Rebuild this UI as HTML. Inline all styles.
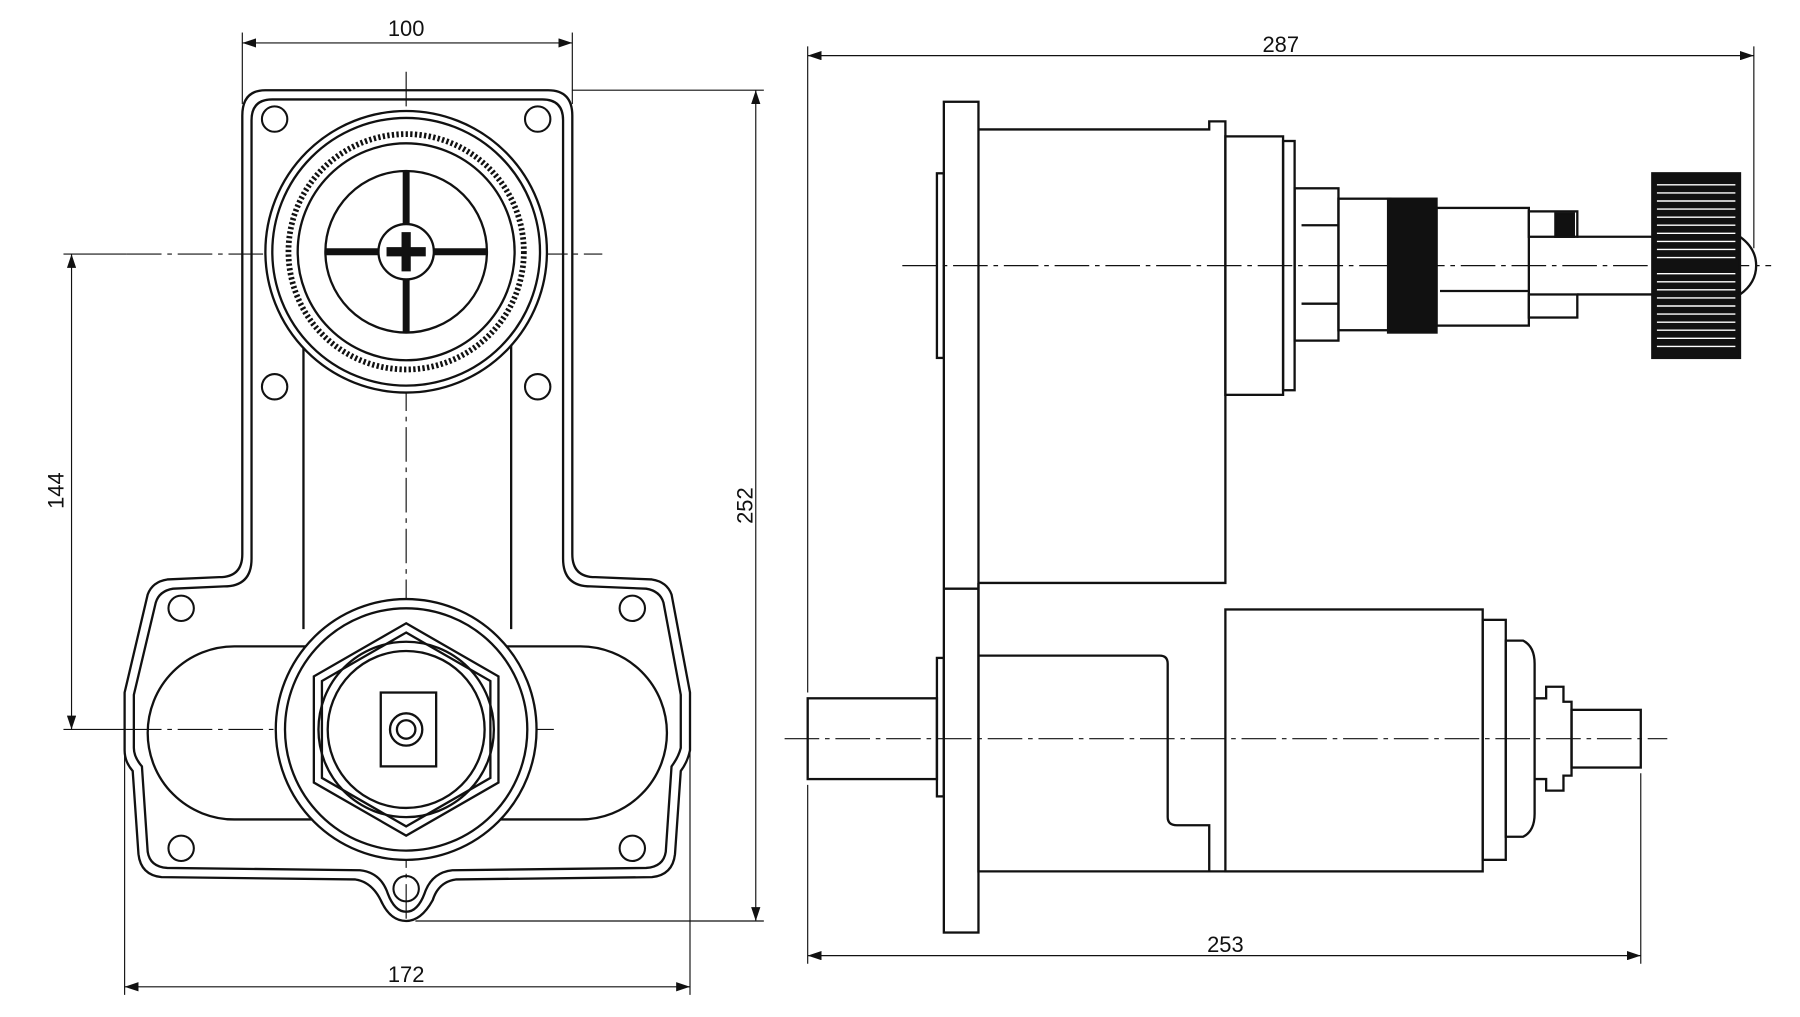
<!DOCTYPE html>
<html><head><meta charset="utf-8"><style>
html,body{margin:0;padding:0;background:#fff;}
svg{display:block;}
text{font-family:"Liberation Sans",sans-serif;font-size:19px;fill:#111;}
</style></head><body>
<svg width="1800" height="1017" viewBox="0 0 1560 881" xmlns="http://www.w3.org/2000/svg">
<defs>
<marker id="a" markerWidth="12" markerHeight="8" refX="12" refY="4" orient="auto-start-reverse" markerUnits="userSpaceOnUse"><path d="M0,0 L12,4 L0,8 Z" fill="#111"/></marker>
</defs>
<g fill="none" stroke="#111" stroke-width="1">
<!-- dimension lines left -->
<line x1="210" y1="28" x2="210" y2="90"/><line x1="496" y1="28" x2="496" y2="90"/>
<line x1="210" y1="37" x2="496" y2="37" marker-start="url(#a)" marker-end="url(#a)"/>
<line x1="496" y1="78" x2="662" y2="78"/><line x1="360" y1="798" x2="662" y2="798"/>
<line x1="655" y1="78" x2="655" y2="798" marker-start="url(#a)" marker-end="url(#a)"/>
<line x1="55" y1="220" x2="110" y2="220"/><line x1="55" y1="632" x2="110" y2="632"/>
<line x1="62" y1="220" x2="62" y2="632" marker-start="url(#a)" marker-end="url(#a)"/>
<line x1="108" y1="650" x2="108" y2="862"/><line x1="598" y1="650" x2="598" y2="862"/>
<line x1="108" y1="855" x2="598" y2="855" marker-start="url(#a)" marker-end="url(#a)"/>
<!-- right dims -->
<line x1="700" y1="40" x2="700" y2="600"/><line x1="1520" y1="40" x2="1520" y2="215"/>
<line x1="700" y1="48" x2="1520" y2="48" marker-start="url(#a)" marker-end="url(#a)"/>
<line x1="700" y1="680" x2="700" y2="835"/><line x1="1422" y1="670" x2="1422" y2="835"/>
<line x1="700" y1="828" x2="1422" y2="828" marker-start="url(#a)" marker-end="url(#a)"/>
<!-- centerlines -->
<g stroke-dasharray="30,5,4,5">
<line x1="352" y1="62" x2="352" y2="800"/>
<line x1="110" y1="220" x2="522" y2="220"/>
<line x1="110" y1="632" x2="480" y2="632"/>
<line x1="782" y1="230" x2="1535" y2="230"/>
<line x1="680" y1="640" x2="1445" y2="640"/>
</g>
</g>
<g fill="none" stroke="#111" stroke-width="2">
<!-- plate -->
<path d="M230 78 L475 78 Q496 78 496 100 L496 480 Q496 500 516 500 L565 502 Q578 504 582 515 L598 600 L598 650 Q596 660 590 668 L585 740 Q583 758 565 760 L395 762 Q380 764 375 780 Q365 798 352 798 Q338 798 330 780 Q322 764 308 762 L140 760 Q122 758 120 740 L115 668 Q108 660 108 650 L108 600 L128 515 Q132 504 145 502 L190 500 Q210 500 210 480 L210 100 Q210 78 230 78 Z"/>
<path d="M236 86 L470 86 Q488 86 488 104 L488 484 Q488 508 512 508 L560 510 Q572 512 575 522 L590 602 L590 648 Q588 656 582 664 L577 738 Q575 751 560 752 L392 754 Q374 756 368 774 Q362 790 352 790 Q342 790 336 774 Q330 756 312 754 L145 752 Q130 751 128 738 L123 664 Q116 656 116 648 L116 602 L135 522 Q138 512 150 510 L194 508 Q218 508 218 484 L218 104 Q218 86 236 86 Z"/>
<line x1="263" y1="295" x2="263" y2="545"/><line x1="443" y1="295" x2="443" y2="545"/>
<rect x="128" y="560" width="450" height="150" rx="75"/>
<g stroke-width="1.8">
<circle cx="238" cy="103" r="11"/><circle cx="466" cy="103" r="11"/>
<circle cx="238" cy="335" r="11"/><circle cx="466" cy="335" r="11"/>
<circle cx="157" cy="527" r="11"/><circle cx="548" cy="527" r="11"/>
<circle cx="157" cy="735" r="11"/><circle cx="548" cy="735" r="11"/>
<circle cx="352" cy="770" r="11"/>
</g>
<!-- top valve -->
<circle cx="352" cy="218" r="122" fill="#fff"/><circle cx="352" cy="218" r="116"/>
<circle cx="352" cy="218" r="102" stroke-width="5" stroke-dasharray="2,2"/>
<circle cx="352" cy="218" r="94"/><circle cx="352" cy="218" r="70"/>
<circle cx="352" cy="218" r="24"/>
<path d="M352 148 V194 M352 242 V288 M282 218 H328 M376 218 H422" stroke-width="6"/>
<path d="M349 202 h6 v13 h13 v6 h-13 v13 h-6 v-13 h-13 v-6 h13 z" fill="#111"/>
<!-- bottom valve -->
<circle cx="352" cy="632" r="113" fill="#fff"/><circle cx="352" cy="632" r="105"/>
<polygon points="352,540 432,586 432,678 352,724 272,678 272,586"/>
<polygon points="352,548 425,590 425,674 352,716 279,674 279,590"/>
<circle cx="352" cy="632" r="76"/><circle cx="352" cy="632" r="68"/>
<rect x="330" y="600" width="48" height="64" fill="#fff"/>
<circle cx="352" cy="632" r="14"/><circle cx="352" cy="632" r="8"/>
<!-- right view -->
<rect x="818" y="88" width="30" height="720"/>
<rect x="812" y="150" width="6" height="160"/><rect x="812" y="570" width="6" height="120"/>
<line x1="818" y1="510" x2="848" y2="510"/>
<path d="M848 112 H1048 V105 H1062 V505 H848"/>
<rect x="1062" y="118" width="50" height="224"/>
<rect x="1112" y="122" width="10" height="216"/>
<rect x="1122" y="163" width="38" height="132"/>
<line x1="1128" y1="195" x2="1160" y2="195"/><line x1="1128" y1="263" x2="1160" y2="263"/>
<rect x="1160" y="172" width="45" height="114"/>
<rect x="1203" y="172" width="42" height="116" fill="#111"/>
<rect x="1245" y="180" width="80" height="102"/>
<line x1="1248" y1="252" x2="1325" y2="252"/>
<rect x="1325" y="183" width="42" height="22"/>
<rect x="1348" y="185" width="16" height="20" fill="#111"/>
<rect x="1325" y="255" width="42" height="20"/>
<line x1="1367" y1="205" x2="1432" y2="205"/><line x1="1367" y1="255" x2="1432" y2="255"/>
<rect x="1432" y="150" width="76" height="160" fill="#111"/>
<g stroke="#fff" stroke-width="1.2">
<path d="M1436 160H1504M1436 167H1504M1436 174H1504M1436 181H1504M1436 188H1504M1436 195H1504M1436 202H1504M1436 209H1504M1436 216H1504M1436 223H1504M1436 237H1504M1436 244H1504M1436 251H1504M1436 258H1504M1436 265H1504M1436 272H1504M1436 279H1504M1436 286H1504M1436 293H1504M1436 300H1504"/>
</g>
<path d="M1508 205 Q1522 215 1522 230 Q1522 245 1508 255"/>
<!-- lower body -->
<path d="M848 505 V755 H1062"/>
<path d="M848 568 H1005 Q1012 568 1012 575 V708 Q1012 715 1020 715 H1048 V755"/>
<rect x="1062" y="528" width="223" height="227"/>
<rect x="1285" y="537" width="20" height="208"/>
<path d="M1305 555 H1320 Q1330 560 1330 575 V705 Q1330 720 1320 725 H1305 Z"/>
<path d="M1330 605 H1340 V595 H1355 V608 H1362 V672 H1355 V685 H1340 V675 H1330"/>
<rect x="1362" y="615" width="60" height="50"/>
<rect x="700" y="605" width="112" height="70"/>
</g>
<text x="352" y="31" text-anchor="middle">100</text>
<text x="1110" y="45" text-anchor="middle">287</text>
<text x="352" y="851" text-anchor="middle">172</text>
<text x="1062" y="825" text-anchor="middle">253</text>
<text transform="translate(652,438) rotate(-90)" text-anchor="middle">252</text>
<text transform="translate(55,425) rotate(-90)" text-anchor="middle">144</text>
</svg>
</body></html>
